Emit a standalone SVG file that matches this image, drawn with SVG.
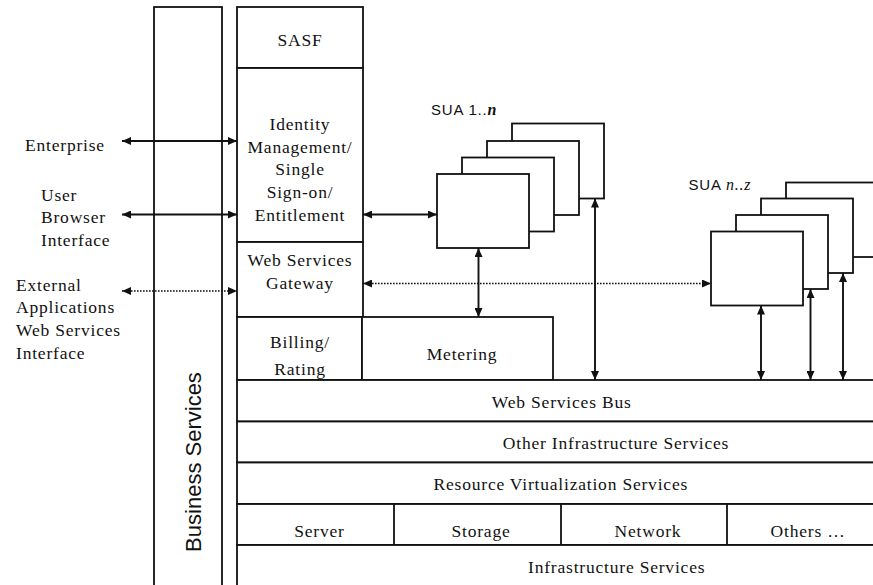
<svg xmlns="http://www.w3.org/2000/svg" width="873" height="585" viewBox="0 0 873 585">
  <style>
    .box { fill: #fff; stroke: #111; stroke-width: 1.8; }
    .ln { fill: none; stroke: #111; stroke-width: 1.8; }
    .conn { fill: none; stroke: #111; stroke-width: 1.9; marker-start: url(#ah); marker-end: url(#ah); }
    .dot { fill: none; stroke: #111; stroke-width: 1.5; stroke-dasharray: 1.6 1.4; marker-start: url(#ah); marker-end: url(#ah); }
    .t { font-family: "Liberation Serif", "Times New Roman", serif; font-size: 17.5px; letter-spacing: 0.8px; fill: #111; text-anchor: middle; }
    .l { text-anchor: start; }
    .s { font-family: "Liberation Sans", Arial, sans-serif; fill: #111; }
  </style>
  <defs>
    <marker id="ah" viewBox="0 0 9 8" refX="9" refY="4" markerWidth="9" markerHeight="8" orient="auto-start-reverse" markerUnits="userSpaceOnUse">
      <path d="M0,0 L9,4 L0,8 z" fill="#111"/>
    </marker>
  </defs>
  <rect width="873" height="585" fill="#fff"/>

  <!-- external actors (labels only) -->
  <g id="enterprise">
    <text class="t l" x="25" y="150.5">Enterprise</text>
  </g>
  <g id="user-browser">
    <text class="t l" x="41" y="200.5">User</text>
    <text class="t l" x="41" y="223">Browser</text>
    <text class="t l" x="41" y="245.7">Interface</text>
  </g>
  <g id="external-apps">
    <text class="t l" x="16" y="290.5">External</text>
    <text class="t l" x="16" y="313">Applications</text>
    <text class="t l" x="16" y="335.8">Web Services</text>
    <text class="t l" x="16" y="358.5">Interface</text>
  </g>

  <!-- vertical business services column -->
  <g id="business-services">
    <rect class="box" x="154" y="7" width="68" height="600"/>
    <text class="s" font-size="22" text-anchor="middle" transform="translate(200.5,462) rotate(-90)">Business Services</text>
  </g>

  <!-- service stack -->
  <g id="sasf">
    <rect class="box" x="237" y="7" width="126" height="61"/>
    <text class="t" x="300" y="45.7">SASF</text>
  </g>
  <g id="identity">
    <rect class="box" x="237" y="68" width="126" height="174"/>
    <text class="t" x="300" y="130">Identity</text>
    <text class="t" x="300" y="152.7">Management/</text>
    <text class="t" x="300" y="175.4">Single</text>
    <text class="t" x="300" y="198.1">Sign-on/</text>
    <text class="t" x="300" y="220.8">Entitlement</text>
  </g>
  <g id="ws-gateway">
    <rect class="box" x="237" y="242" width="126" height="75"/>
    <text class="t" x="300" y="266.4">Web Services</text>
    <text class="t" x="300" y="288.7">Gateway</text>
  </g>
  <g id="billing">
    <rect class="box" x="237" y="317" width="125" height="63"/>
    <text class="t" x="300" y="348">Billing/</text>
    <text class="t" x="300" y="374.7">Rating</text>
  </g>
  <g id="metering">
    <rect class="box" x="362" y="317" width="191" height="63"/>
    <text class="t" x="462" y="359.7">Metering</text>
  </g>

  <!-- horizontal layers -->
  <g id="web-services-bus">
    <rect class="box" x="237" y="380" width="660" height="41.5"/>
    <text class="t" x="561.7" y="408">Web Services Bus</text>
  </g>
  <g id="other-infrastructure">
    <rect class="box" x="237" y="421.5" width="660" height="41"/>
    <text class="t" x="616" y="449.3">Other Infrastructure Services</text>
  </g>
  <g id="resource-virtualization">
    <rect class="box" x="237" y="462.5" width="660" height="41.5"/>
    <text class="t" x="560.8" y="489.7">Resource Virtualization Services</text>
  </g>
  <g id="resources">
    <rect class="box" x="237" y="504" width="660" height="41"/>
    <line class="ln" x1="394" y1="504" x2="394" y2="545"/>
    <line class="ln" x1="561" y1="504" x2="561" y2="545"/>
    <line class="ln" x1="727" y1="504" x2="727" y2="545"/>
    <text class="t" x="319.5" y="537">Server</text>
    <text class="t" x="481" y="537">Storage</text>
    <text class="t" x="648" y="537">Network</text>
    <text class="t" x="808" y="537">Others …</text>
  </g>
  <g id="infrastructure-services">
    <rect class="box" x="237" y="545" width="660" height="60"/>
    <text class="t" x="616.7" y="573">Infrastructure Services</text>
  </g>

  <!-- SUA 1..n stack -->
  <g id="sua-1-n">
    <text class="s" font-size="15" letter-spacing="0.8" x="431" y="114.5">SUA 1..<tspan font-family="Liberation Serif, serif" font-style="italic" font-weight="bold" font-size="16">n</tspan></text>
    <rect class="box" x="512" y="123.5" width="92" height="75"/>
    <rect class="box" x="487" y="141" width="92" height="74"/>
    <rect class="box" x="462" y="157.5" width="92" height="74"/>
    <rect class="box" x="437" y="174" width="92" height="74"/>
  </g>

  <!-- SUA n..z stack -->
  <g id="sua-n-z">
    <text class="s" font-size="15" letter-spacing="0.8" x="688.5" y="189.5">SUA <tspan font-family="Liberation Serif, serif" font-style="italic" font-size="16">n..z</tspan></text>
    <rect class="box" x="786" y="182.5" width="100" height="74.5"/>
    <rect class="box" x="761" y="198.5" width="92" height="74.5"/>
    <rect class="box" x="736" y="215" width="92" height="74"/>
    <rect class="box" x="711" y="231.5" width="92" height="74"/>
  </g>

  <!-- connectors -->
  <g id="connectors">
    <line class="conn" x1="122" y1="141" x2="237" y2="141"/>
    <line class="conn" x1="122" y1="214.5" x2="237" y2="214.5"/>
    <line class="dot" x1="122" y1="291" x2="237" y2="291"/>
    <line class="conn" x1="363" y1="214.5" x2="437" y2="214.5"/>
    <line class="dot" x1="363" y1="283.5" x2="711" y2="283.5"/>
    <line class="conn" x1="478.5" y1="248" x2="478.5" y2="317"/>
    <line class="conn" x1="595" y1="198.5" x2="595" y2="380"/>
    <line class="conn" x1="761" y1="305.5" x2="761" y2="380"/>
    <line class="conn" x1="810.5" y1="289" x2="810.5" y2="380"/>
    <line class="conn" x1="843" y1="273" x2="843" y2="380"/>
  </g>
</svg>
